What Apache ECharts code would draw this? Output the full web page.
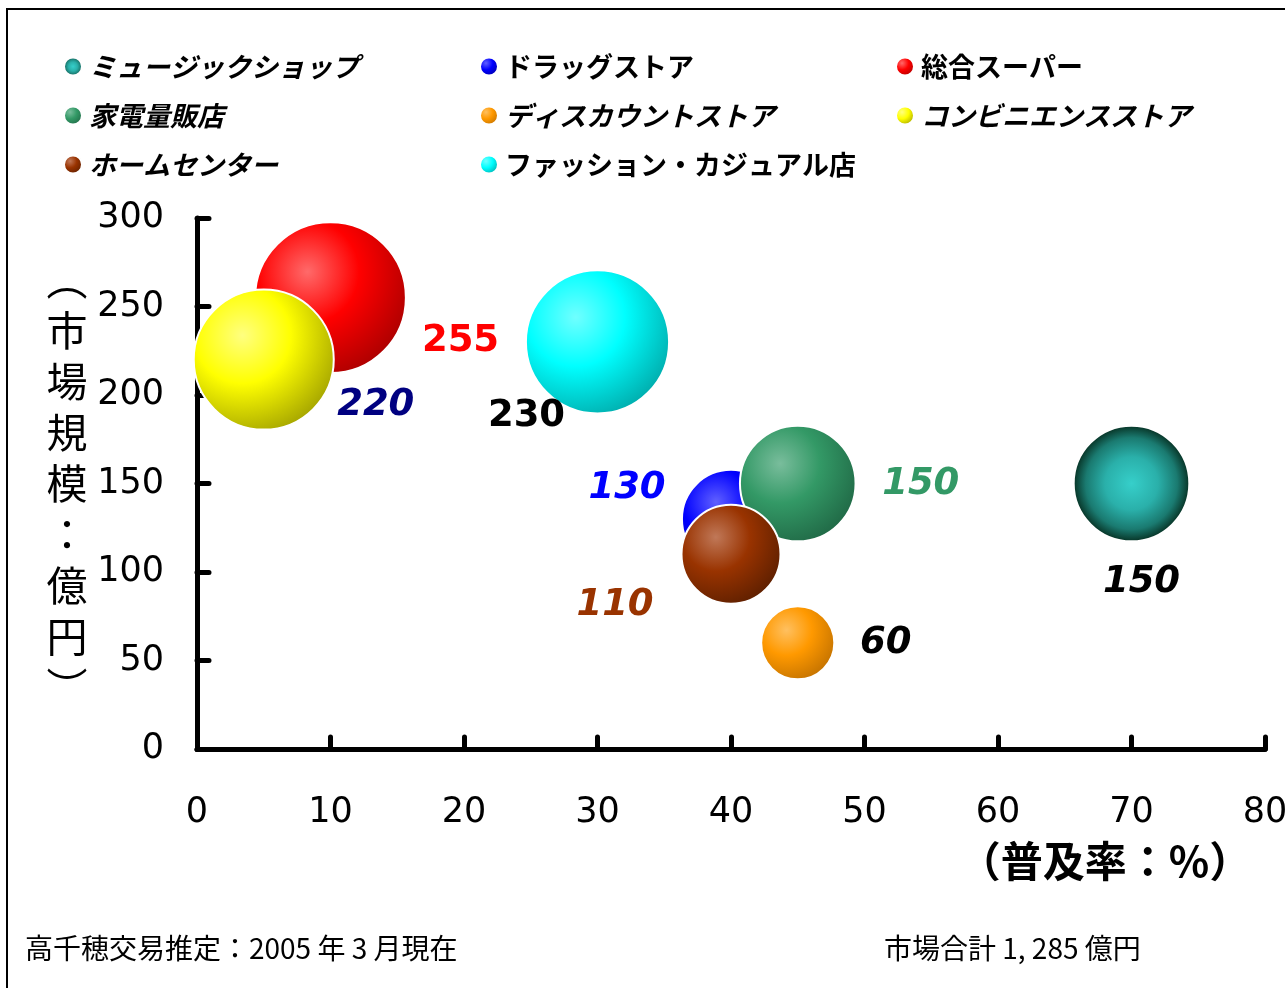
<!DOCTYPE html>
<html>
<head>
<meta charset="utf-8">
<script src="https://cdn.jsdelivr.net/npm/echarts@6/dist/echarts.min.js"></script>
<style>
html,body{margin:0;padding:0;background:#fff;overflow:hidden;}
#chart{width:1285px;height:988px;}
</style>
</head>
<body>
<div id="chart"></div>
<script>
// ---- data ----
const categories = ['ミュージックショップ','ドラッグストア','総合スーパー','家電量販店','ディスカウントストア','コンビニエンスストア','ホームセンター','ファッション・カジュアル店'];
const penetration = [70, 40, 10, 45, 45, 5, 40, 30];          // 普及率 (%)
const marketSize = [150, 130, 255, 150, 60, 220, 110, 230];    // 市場規模 (億円)
const bubbleSize = [150, 108, 255, 150, 60, 220, 110, 230];    // bubble area value
const yAxisTitle = '（市場規模：億円）';
const xAxisTitle = '（普及率：%）';
const noteLeft = '高千穂交易推定：2005 年 3 月現在';
const noteRight = '市場合計 1, 285 億円';

// ---- styles ----
const baseColors  = ['#2BB5B0','#0000FF','#FF0000','#339966','#FF9900','#FFFF00','#993300','#00FFFF'];
const lightColors = ['#36D0CA','#6060FF','#FF6A6A','#79BD9C','#FFC060','#FFFF80','#C07858','#70FFFF'];
const darkColors  = ['#0A3A2C','#0000A0','#A80000','#1F6644','#C07000','#A0A000','#5A1E00','#00A8A8'];
const labelColors = ['#000000','#0000FF','#FF0000','#339966','#000000','#000080','#993300','#000000'];
const labelItalic = [true, true, false, true, true, true, true, false];
const legendItalic = [true, false, false, true, true, true, true, false];
const labelOffsets = [[10,99],[-104,-31],[130,44],[123,1],[88,1],[112,46],[-116,51],[-71,74]];
const legendColumns = [[0,3,6],[1,4,7],[2,5]];
const legendLefts = [63, 479, 895];

function bubbleColor(i){
  if (i === 0) {
    return {type:'radial', x:0.5, y:0.5, r:0.5, colorStops:[
      {offset:0, color:'#36CFCA'},{offset:0.45, color:'#2AB0AA'},{offset:0.78, color:'#1A7A70'},{offset:1, color:'#062E20'}]};
  }
  return {type:'radial', x:0.35, y:0.33, r:0.75, colorStops:[
    {offset:0, color:lightColors[i]},{offset:0.45, color:baseColors[i]},{offset:1, color:darkColors[i]}]};
}

const series = categories.map((name, i) => ({
  name: name,
  type: 'scatter',
  data: [[penetration[i], marketSize[i], bubbleSize[i]]],
  symbol: 'circle',
  symbolSize: v => 2 * 4.72 * Math.sqrt(v[2]),
  itemStyle: { color: bubbleColor(i), borderColor: '#ffffff', borderWidth: 2, opacity: 1 },
  label: {
    show: true,
    position: 'inside',
    offset: labelOffsets[i],
    formatter: p => String(p.value[1]),
    color: labelColors[i],
    fontFamily: 'DejaVu Sans',
    fontWeight: 'bold',
    fontStyle: labelItalic[i] ? 'italic' : 'normal',
    fontSize: 37,
    align: 'center',
    verticalAlign: 'middle'
  },
  emphasis: { disabled: true },
  z: 2 + i
}));

const legends = legendColumns.map((col, c) => ({
  orient: 'vertical',
  left: legendLefts[c],
  top: 49,
  padding: 0,
  itemGap: 14,
  itemWidth: 18,
  itemHeight: 18,
  icon: 'circle',
  selectedMode: false,
  data: col.map(i => ({ name: categories[i], textStyle: { fontStyle: legendItalic[i] ? 'italic' : 'normal' } })),
  textStyle: { fontFamily: 'Noto Sans CJK JP', fontWeight: 'bold', fontSize: 27, color: '#000', lineHeight: 35, padding: [0,0,0,2] }
}));

const chart = echarts.init(document.getElementById('chart'));
chart.setOption({
  animation: false,
  backgroundColor: '#ffffff',
  legend: legends,
  grid: { left: 197, right: 20, top: 218, bottom: 239, containLabel: false, outerBoundsMode: 'none' },
  xAxis: {
    type: 'value', min: 0, max: 80, interval: 10,
    axisLine: { show: true, onZero: false, lineStyle: { color: '#000', width: 5, cap: 'round' } },
    axisTick: { show: true, inside: true, length: 12, lineStyle: { color: '#000', width: 5, cap: 'round' } },
    axisLabel: { color: '#000', fontFamily: 'DejaVu Sans', fontSize: 35, margin: 46 },
    splitLine: { show: false }
  },
  yAxis: {
    type: 'value', min: 0, max: 300, interval: 50,
    axisLine: { show: true, onZero: false, lineStyle: { color: '#000', width: 5, cap: 'round' } },
    axisTick: { show: true, inside: true, length: 12, lineStyle: { color: '#000', width: 5, cap: 'round' } },
    axisLabel: { color: '#000', fontFamily: 'DejaVu Sans', fontSize: 35, margin: 33 },
    splitLine: { show: false }
  },
  graphic: [
    { type: 'rect', z: -10, silent: true, shape: { x: 7, y: 9, width: 1300, height: 1000 },
      style: { fill: 'none', stroke: '#000', lineWidth: 2 } },
    { type: 'text', silent: true, x: 67, y: 483,
      style: { text: yAxisTitle.replace('（','︵').replace('）','︶').split('').join('\n'),
        fontFamily: 'Noto Sans CJK JP', fontSize: 41, lineHeight: 51, fill: '#000',
        align: 'center', verticalAlign: 'middle' } },
    { type: 'text', silent: true, x: 1105, y: 861,
      style: { text: xAxisTitle, fontFamily: 'Noto Sans CJK JP', fontWeight: 'bold', fontSize: 42, fill: '#000',
        align: 'center', verticalAlign: 'middle' } },
    { type: 'text', silent: true, x: 25, y: 948,
      style: { text: noteLeft, fontFamily: 'Noto Sans CJK JP', fontSize: 28, fill: '#000',
        align: 'left', verticalAlign: 'middle' } },
    { type: 'text', silent: true, x: 884, y: 948,
      style: { text: noteRight, fontFamily: 'Noto Sans CJK JP', fontSize: 28, fill: '#000',
        align: 'left', verticalAlign: 'middle' } }
  ],
  series: series
});
</script>
</body>
</html>
